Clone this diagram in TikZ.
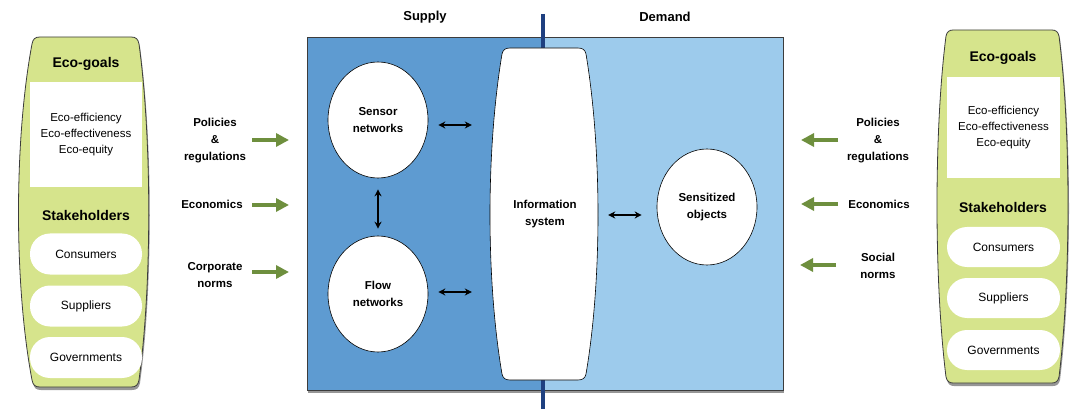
\documentclass[tikz,border=0pt]{standalone}
\usepackage{fontspec}
\setmainfont{Liberation Sans}
\usetikzlibrary{arrows.meta,shadows,shapes.geometric}

\definecolor{panelgreen}{RGB}{214,228,140}
\definecolor{arrowgreen}{RGB}{110,143,62}
\definecolor{supplyblue}{RGB}{94,155,209}
\definecolor{demandblue}{RGB}{157,203,236}
\definecolor{navy}{RGB}{31,64,128}
\definecolor{edgegray}{RGB}{60,60,60}

\tikzset{
  shade3/.style={drop shadow={shadow xshift=1pt, shadow yshift=-3pt, opacity=0.55, fill=black!75}},
  panel/.style={fill=panelgreen, draw=edgegray, line width=0.8pt, shade3},
  heading/.style={font=\bfseries\fontsize{14}{17}\selectfont},
  whitebox/.style={fill=white, inner sep=0pt, align=center,
    font=\fontsize{11.5}{16}\selectfont},
  pill/.style={fill=white, rounded corners=20pt, inner sep=0pt,
    minimum width=112pt, minimum height=41pt, font=\fontsize{12}{14}\selectfont},
  lbl/.style={align=center, font=\bfseries\fontsize{11.5}{17}\selectfont},
  bubble/.style={ellipse, fill=white, draw=black, line width=0.6pt,
    minimum width=100pt, minimum height=116pt, align=center, inner sep=0pt,
    font=\bfseries\fontsize{11.5}{17}\selectfont},
  greenarrow/.style={draw=arrowgreen, line width=4pt,
    -{Triangle[length=13pt,width=13pt]}},
  dbl/.style={draw=black, line width=1.3pt, {Stealth[length=7pt,width=7pt]}-{Stealth[length=7pt,width=7pt]}},
  ttl/.style={font=\bfseries\fontsize{13}{15}\selectfont}
}

\begin{document}
\begin{tikzpicture}[x=1pt,y=-1pt]
\useasboundingbox (0,0) rectangle (1072,409);

% ---------- left stakeholder panel ----------
\path[panel] (40,37) -- (131,37) .. controls (136,37) and (138,39) .. (139,44)
  .. controls (152,140) and (152,285) .. (139,380)
  .. controls (138,385) and (136,387) .. (131,387) -- (40,387)
  .. controls (35,387) and (33,385) .. (32,380)
  .. controls (14,285) and (14,140) .. (32,44)
  .. controls (33,39) and (35,37) .. (40,37) -- cycle;
\node[heading] (lgoals) at (86,64) {Eco-goals};
\node[whitebox, minimum width=112pt, minimum height=105pt] (lgoallist) at (86,134.5)
  {Eco-efficiency\\Eco-effectiveness\\Eco-equity};
\node[heading] (lstake) at (86,215) {Stakeholders};
\node[pill] (lcons) at (86,254) {Consumers};
\node[pill] (lsupp) at (86,306) {Suppliers};
\node[pill] (lgov) at (86,357.5) {Governments};

% ---------- right stakeholder panel ----------
\path[panel] (953,30) -- (1052,30) .. controls (1056,30) and (1058,32) .. (1059,36)
  .. controls (1071,130) and (1071,280) .. (1059,377)
  .. controls (1058,381) and (1056,383) .. (1052,383) -- (953,383)
  .. controls (949,383) and (947,381) .. (946,377)
  .. controls (934,280) and (934,130) .. (946,36)
  .. controls (947,32) and (949,30) .. (953,30) -- cycle;
\node[heading] (rgoals) at (1003,58) {Eco-goals};
\node[whitebox, minimum width=113pt, minimum height=101pt] (rgoallist) at (1003.5,128)
  {Eco-efficiency\\Eco-effectiveness\\Eco-equity};
\node[heading] (rstake) at (1003,207) {Stakeholders};
\node[pill, minimum width=113pt, minimum height=40pt] (rcons) at (1003.5,247) {Consumers};
\node[pill, minimum width=113pt, minimum height=40pt] (rsupp) at (1003.5,298) {Suppliers};
\node[pill, minimum width=113pt, minimum height=40pt] (rgov) at (1003.5,350) {Governments};

% ---------- supply / demand frame ----------
\path[fill=supplyblue, shade3] (307,37) rectangle (783,390);
\fill[demandblue] (543,37) rectangle (783,390);
\draw[edgegray, line width=0.8pt] (307,37) rectangle (783,390);

\node[ttl] (supply) at (425,17) {Supply};
\node[ttl] (demand) at (665,17) {Demand};

\coordinate (divtop) at (543,14);
\coordinate (divbot) at (543,412);
\draw[navy, line width=3.5pt] (divtop) -- (divbot);

% information system (barrel shape) with its label
\path[fill=white, draw=black, line width=0.6pt] (510,48) -- (578,48)
  .. controls (583,48) and (585,50) .. (586,54)
  .. controls (602,150) and (602,280) .. (586,374)
  .. controls (585,378) and (583,380) .. (578,380) -- (510,380)
  .. controls (505,380) and (503,378) .. (502,374)
  .. controls (486,280) and (486,150) .. (502,54)
  .. controls (503,50) and (505,48) .. (510,48) -- cycle;
\node[inner sep=0pt, minimum width=106pt, minimum height=332pt, align=center,
  font=\bfseries\fontsize{11.5}{17}\selectfont] (info) at (545,214)
  {Information\\system};

\node[bubble] (sensor) at (378,120) {Sensor\\networks};
\node[bubble] (flow) at (378,294) {Flow\\networks};
\node[bubble] (sensitized) at (707,207) {Sensitized\\objects};

\draw[dbl, shorten <=10pt, shorten >=20pt] ([yshift=-5pt]sensor.east) -- ([yshift=-5pt]sensor.east -| info.west);
\draw[dbl, shorten <=10pt, shorten >=20pt] ([yshift=2pt]flow.east) -- ([yshift=2pt]flow.east -| info.west);
\draw[dbl, shorten <=11pt, shorten >=7pt] (sensor.south) -- (flow.north);
\draw[dbl, shorten <=10pt, shorten >=15pt] ([yshift=-1pt]info.east) -- ([yshift=-1pt]info.east -| sensitized.west);

% ---------- left influences ----------
\node[lbl] (lpol) at (215,141) {Policies\\\&\\regulations};
\node[lbl] (lecon) at (212,204) {Economics};
\node[lbl] (lcorp) at (215,275.5) {Corporate\\norms};
\coordinate (lpolA) at (252,140);  \coordinate (lpolB) at (289,140);
\coordinate (leconA) at (252,205); \coordinate (leconB) at (289,205);
\coordinate (lcorpA) at (252,272); \coordinate (lcorpB) at (289,272);
\draw[greenarrow] (lpolA) -- (lpolB);
\draw[greenarrow] (leconA) -- (leconB);
\draw[greenarrow] (lcorpA) -- (lcorpB);

% ---------- right influences ----------
\node[lbl] (rpol) at (878,140.5) {Policies\\\&\\regulations};
\node[lbl] (recon) at (879,204) {Economics};
\node[lbl] (rsoc) at (878,266) {Social\\norms};
\coordinate (rpolA) at (838,140);  \coordinate (rpolB) at (801,140);
\coordinate (reconA) at (838,204); \coordinate (reconB) at (801,204);
\coordinate (rsocA) at (836,265);  \coordinate (rsocB) at (800,265);
\draw[greenarrow] (rpolA) -- (rpolB);
\draw[greenarrow] (reconA) -- (reconB);
\draw[greenarrow] (rsocA) -- (rsocB);
\end{tikzpicture}
\end{document}
